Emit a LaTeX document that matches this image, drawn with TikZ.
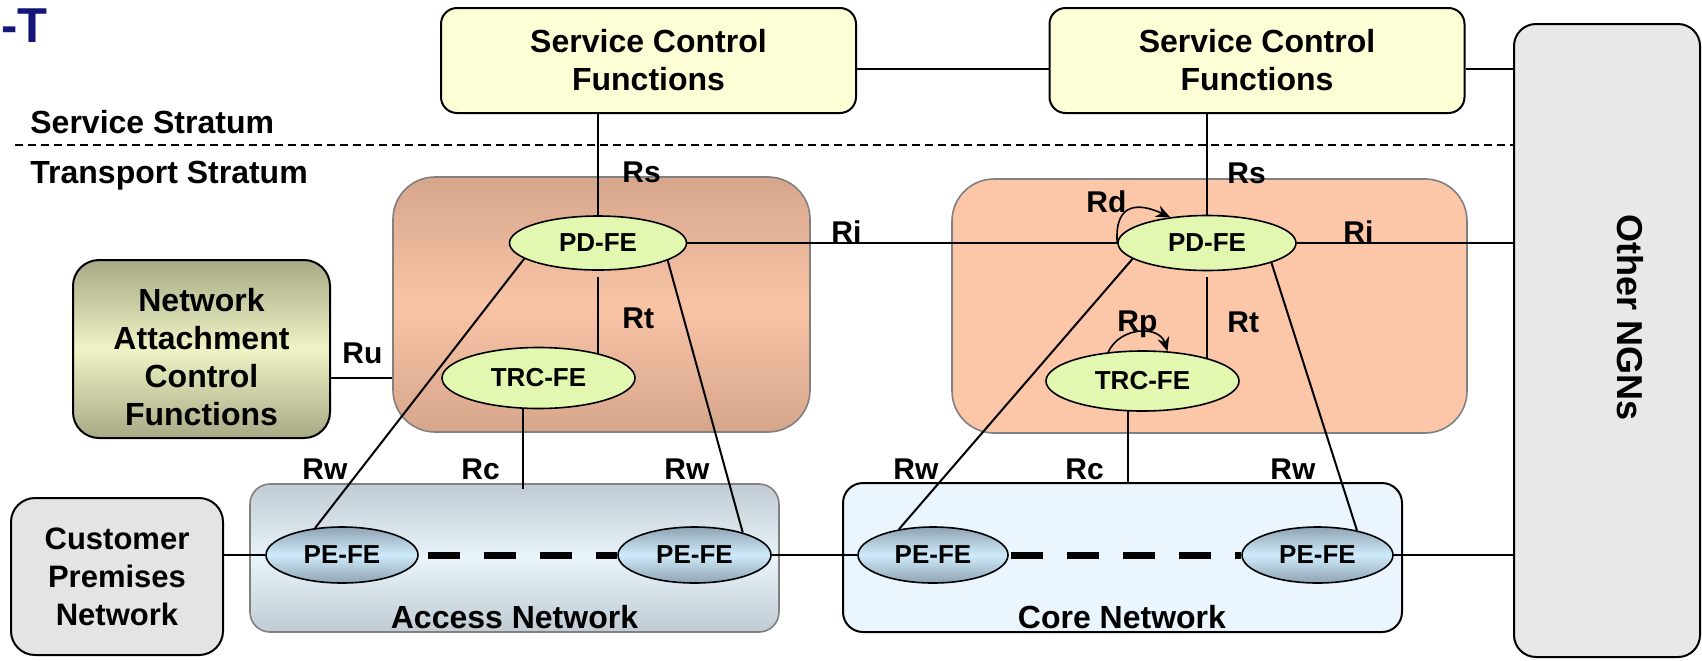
\documentclass[tikz,border=0pt]{standalone}
\usepackage{fontspec}
\setmainfont{Liberation Sans}
\usetikzlibrary{positioning, shapes.geometric, arrows.meta}

\definecolor{ituBlue}{HTML}{15157A}
\definecolor{scfYellow}{HTML}{FDFDD6}
\definecolor{trDark}{HTML}{D6A68C}
\definecolor{trLight}{HTML}{F9C4A6}
\definecolor{trPeach}{HTML}{FCC6A8}
\definecolor{feGreen}{HTML}{E2F7B0}
\definecolor{nacDark}{HTML}{A7AA85}
\definecolor{nacLight}{HTML}{EFF3C5}
\definecolor{accDark}{HTML}{C1CBD3}
\definecolor{accLight}{HTML}{E9F3FA}
\definecolor{peDark}{HTML}{8FA3B3}
\definecolor{peLight}{HTML}{CFEBFB}
\definecolor{coreBlue}{HTML}{EAF5FD}
\definecolor{cpnGray}{HTML}{E4E4E4}
\definecolor{ngnGray}{HTML}{E8E8E8}

\newcommand{\BOXFONT}{\bfseries\fontsize{16}{19}\selectfont}
\newcommand{\FEFONT}{\bfseries\fontsize{13}{15}\selectfont}
\newcommand{\LBLFONT}{\bfseries\fontsize{15}{17}\selectfont}

\tikzset{
    every node/.style={inner sep=0pt},
    scfbox/.style={draw=black, line width=1pt, rounded corners=8pt, fill=scfYellow,
            minimum width=207.5pt, minimum height=52.5pt, align=center, font=\BOXFONT},
    trbox/.style={draw=gray, line width=0.8pt, rounded corners=21pt},
    netbox/.style={draw=black, line width=1pt, rounded corners=10pt, align=center},
    fe/.style={ellipse, draw=black, line width=0.8pt, fill=feGreen, font=\FEFONT},
    pe/.style={ellipse, draw=black, line width=0.8pt, top color=peDark, bottom color=peDark,
            middle color=peLight, minimum width=76pt, minimum height=28pt, font=\FEFONT},
    lbl/.style={anchor=base west, font=\LBLFONT},
    stratum/.style={anchor=base west, font=\bfseries\fontsize{16}{18}\selectfont},
    wire/.style={line width=1pt},
    bigdash/.style={line width=3.5pt, dash pattern=on 16pt off 12pt},
    stratline/.style={line width=0.7pt, dash pattern=on 4pt off 2.5pt},
    selfarr/.style={line width=0.8pt, -{Stealth[length=7pt, width=6pt]}},
}

\begin{document}
\begin{tikzpicture}[x=0.5pt, y=-0.5pt]
    \useasboundingbox (0, 0) rectangle (1702, 660);

    % 标题残留与分层
    \node[anchor=base west, text=ituBlue, font=\bfseries\fontsize{24.5}{28}\selectfont] (itu) at (1, 42) {-T};
    \node[stratum] (svcS) at (30, 133) {Service Stratum};
    \node[stratum] (trpS) at (30, 183) {Transport Stratum};

    % Other NGNs
    \node[netbox, fill=ngnGray, rounded corners=11pt, minimum width=93pt, minimum height=316.5pt] (ngn) at (1607, 340.5) {};
    \node[font=\bfseries\fontsize{18}{20}\selectfont, rotate=-90] (ngnTxt) at (1630, 318) {Other NGNs};

    \coordinate (strL) at (15, 145);
    \draw[stratline] (strL) -- (strL -| ngn.west);

    % service control
    \node[scfbox] (scfA) at (648.5, 60.5) {Service Control\\Functions};
    \node[scfbox] (scfB) at (1257, 60.5) {Service Control\\Functions};

    % transport control boxes
    \node[trbox, top color=trDark, bottom color=trDark, middle color=trLight,
        minimum width=208.5pt, minimum height=127.5pt] (trA) at (601.5, 304.5) {};
    \node[trbox, fill=trPeach, minimum width=257.5pt, minimum height=127pt] (trB) at (1209.5, 306) {};

    \node[netbox, top color=nacDark, bottom color=nacDark, middle color=nacLight, rounded corners=13pt,
        minimum width=128.5pt, minimum height=89pt] (nacf) at (201.5, 349) {};
    \node[align=center, font=\bfseries\fontsize{16}{19}\selectfont] (nacfTxt) at (201.5, 357)
        {Network\\Attachment\\Control\\Functions};

    % networks
    \node[netbox, fill=cpnGray, rounded corners=12pt, minimum width=106pt, minimum height=78.5pt,
        font=\bfseries\fontsize{15.5}{19}\selectfont] (cpn) at (117, 576.5) {Customer\\Premises\\Network};
    \node[netbox, draw=gray, line width=0.8pt, top color=accDark, bottom color=accDark, middle color=accLight,
        minimum width=264.5pt, minimum height=74pt] (accA) at (514.5, 558) {};
    \node[netbox, fill=coreBlue, minimum width=279.5pt, minimum height=74.5pt] (coreB) at (1122.5, 557.5) {};
    \node[font=\BOXFONT] (accTxt) at (514.5, 617) {Access Network};
    \node[font=\BOXFONT] (coreTxt) at (1122, 617) {Core Network};

    % FEs
    \node[fe, minimum width=88.5pt, minimum height=27pt] (pdA) at (598, 243) {PD-FE};
    \node[fe, minimum width=89pt, minimum height=27.5pt] (pdB) at (1207, 243) {PD-FE};
    \node[fe, minimum width=96.5pt, minimum height=30.5pt] (trcA) at (538.5, 378) {TRC-FE};
    \node[fe, minimum width=96.5pt, minimum height=30pt] (trcB) at (1142.5, 381) {TRC-FE};

    \node[pe] (peA1) at (342, 555) {PE-FE};
    \node[pe, minimum width=76.5pt] (peA2) at (694.5, 555) {PE-FE};
    \node[pe, minimum width=75pt] (peB1) at (933, 555) {PE-FE};
    \node[pe, minimum width=75.5pt] (peB2) at (1317.5, 555) {PE-FE};

    % Rs, Ri
    \draw[wire] (pdA.north) -- (pdA.north |- scfA.south);
    \draw[wire] (pdB.north) -- (pdB.north |- scfB.south);
    \coordinate (scfOut) at ([yshift=-4pt]scfB.east);
    \draw[wire] ([yshift=-4pt]scfA.east) -- ([yshift=-4pt]scfB.west);
    \draw[wire] (scfOut) -- (scfOut -| ngn.west);
    \draw[wire] (pdA.east) -- (pdB.west);
    \draw[wire] (pdB.east) -- (pdB.east -| ngn.west);

    % Rt, Rc
    \coordinate (rtA) at (pdA.south |- trcA.21);
    \coordinate (rtB) at (pdB.south |- trcB.19);
    \draw[wire] ([yshift=-3pt]pdA.south) -- (rtA);
    \draw[wire] ([yshift=-3pt]pdB.south) -- (rtB);
    \coordinate (rcA) at (trcA.-116 |- accA.north);
    \coordinate (rcB) at (trcB.-116 |- coreB.north);
    \draw[wire] (trcA.-116) -- ([yshift=-3pt]rcA);
    \draw[wire] (trcB.-116) -- (rcB);

    % Ru
    \coordinate (ruIn) at ([yshift=-14.5pt]nacf.east);
    \draw[wire] (ruIn) -- (ruIn -| trA.west);

    % Rw
    \draw[wire] (pdA.-168) -- (peA1.135);
    \draw[wire] (pdA.-14) -- (peA2.25);
    \draw[wire] (pdB.-168) -- (peB1.143);
    \draw[wire] (pdB.-17) -- (peB2.32);

    % transport path
    \draw[wire] (cpn.east |- peA1.west) -- (peA1.west);
    \draw[wire] (peA2.east) -- (peB1.west);
    \draw[wire] (peB2.east) -- (peB2.east -| ngn.west);
    \draw[bigdash, dash phase=23.5pt] (peA1.east) -- (peA2.west);
    \draw[bigdash, dash phase=27pt] (peB1.east) -- (peB2.west);

    % Rd, Rp
    \draw[selfarr] (pdB.west) .. controls +(-3, -42) and +(-30, -14) .. (pdB.145);
    \draw[selfarr] (trcB.140) .. controls +(12, -26) and +(-8, -26) .. (trcB.50);

    % reference point labels
    \node[lbl] (rsA) at (622, 182) {Rs};
    \node[lbl] (rsB) at (1227, 183) {Rs};
    \node[lbl] (riA) at (831, 242) {Ri};
    \node[lbl] (riB) at (1343, 242) {Ri};
    \node[lbl] (rtAl) at (622, 328) {Rt};
    \node[lbl] (rtBl) at (1227, 332) {Rt};
    \node[lbl] (rd) at (1086, 212) {Rd};
    \node[lbl] (rp) at (1117, 331) {Rp};
    \node[lbl] (ru) at (342, 363) {Ru};
    \node[lbl] (rwA1) at (302, 479) {Rw};
    \node[lbl] (rcAl) at (461, 479) {Rc};
    \node[lbl] (rwA2) at (664, 479) {Rw};
    \node[lbl] (rwB1) at (893, 479) {Rw};
    \node[lbl] (rcBl) at (1065, 479) {Rc};
    \node[lbl] (rwB2) at (1270, 479) {Rw};
\end{tikzpicture}
\end{document}
